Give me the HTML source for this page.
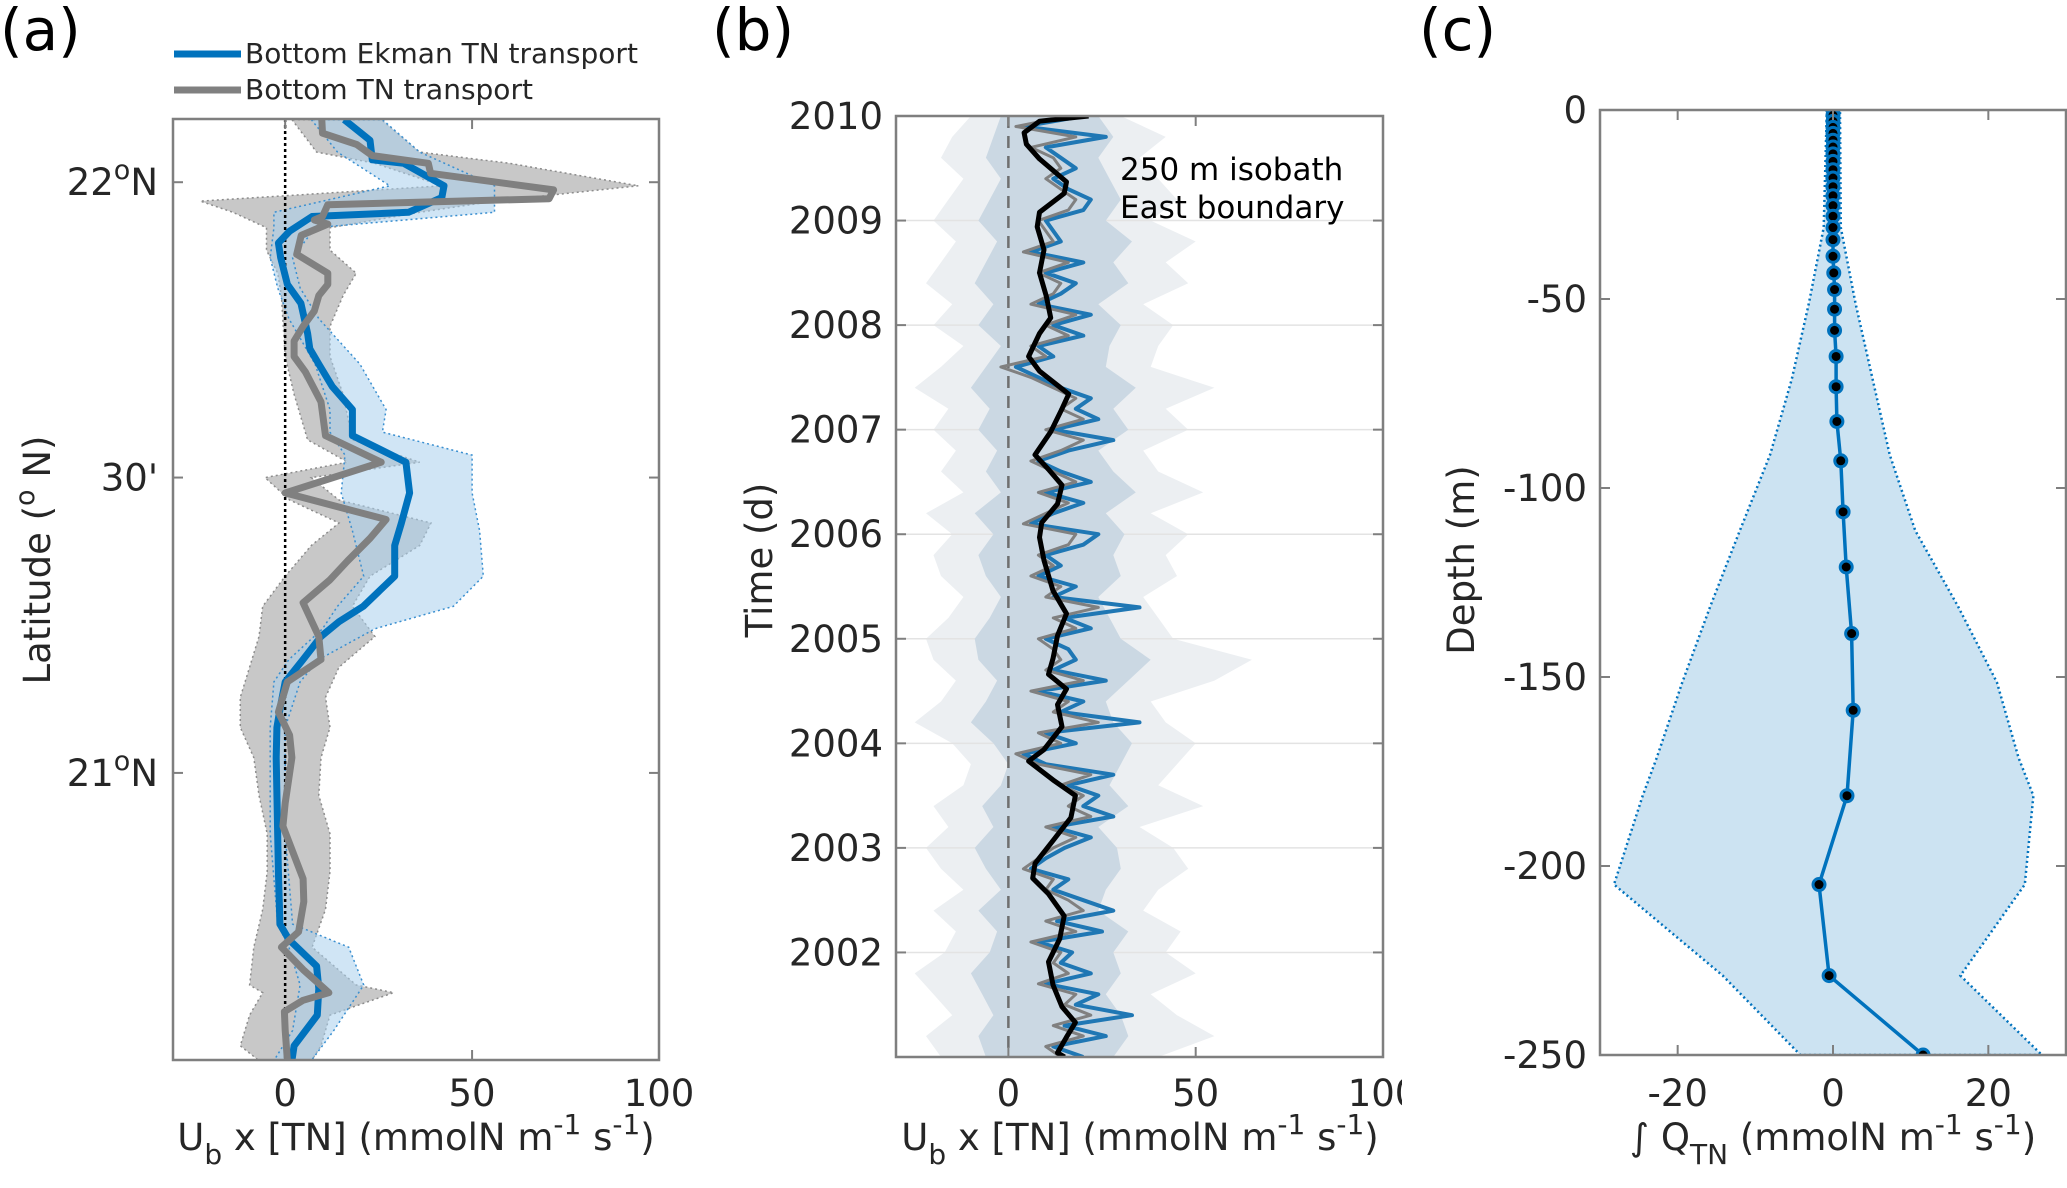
<!DOCTYPE html>
<html><head><meta charset="utf-8"><title>Bottom TN transport figure</title>
<style>
html,body{margin:0;padding:0;background:#fff;}
svg{display:block;font-family:"DejaVu Sans","Liberation Sans",sans-serif;}
.tick{font-size:37px;fill:#262626;}
.lab{font-size:37px;fill:#262626;}
.plab{font-size:58px;fill:#000;}
</style></head>
<body>
<svg id="fig" width="2067" height="1188" viewBox="0 0 2067 1188" xmlns="http://www.w3.org/2000/svg">
<defs><clipPath id="clipA"><rect x="173" y="119" width="486" height="941"/></clipPath>
<clipPath id="clipB"><rect x="896" y="116" width="487" height="941"/></clipPath>
<clipPath id="clipC"><rect x="1600" y="110" width="466" height="945"/></clipPath></defs>
<g id="panelA"></g>
<g id="panelB"></g>
<g id="panelC"></g>
</svg>
<script>
// ---------- Panel (a) data ----------
const aBlueLat = [22.106,22.071,22.038,22.032,21.994,21.974,21.949,21.942,21.917,21.897,21.872,21.827,21.795,21.744,21.718,21.692,21.654,21.615,21.571,21.526,21.474,21.423,21.385,21.333,21.282,21.256,21.231,21.192,21.154,21.115,21.077,21.026,20.833,20.744,20.718,20.673,20.635,20.590,20.538,20.513];
const aBlueVal = [15.8,22.7,23.3,31.7,42.5,41.9,33.0,7.2,1.2,-1.8,-1.2,0.6,4.2,6.0,6.6,9.0,12.6,18.0,18.0,32.3,33.3,31.1,29.3,29.3,20.9,14.4,9.6,4.8,0,-1.2,-2.2,-2.4,-1.8,-1.4,1.0,8.4,9.0,8.6,2.4,1.8];
const aGrayLat = [22.106,22.083,22.064,22.045,22.032,22.015,21.987,21.972,21.962,21.942,21.936,21.929,21.910,21.878,21.846,21.827,21.808,21.782,21.756,21.731,21.705,21.679,21.628,21.571,21.526,21.474,21.429,21.397,21.359,21.327,21.288,21.231,21.192,21.154,21.103,21.064,21.026,20.949,20.910,20.821,20.782,20.731,20.705,20.667,20.628,20.615,20.596,20.564,20.513];
const aGrayVal = [9.8,10.0,19.1,23.3,38.3,38.9,71.8,70.6,11.4,10,7.8,11.4,4.3,3.1,11.4,11.4,9.0,7.8,4.8,2.4,2.4,5.4,9.6,10.8,25.7,0,27.0,22.7,16.7,12.0,4.8,9.0,9.6,0.6,-1.8,1.2,1.8,0,-0.6,4.8,5.0,3.6,-1.0,4.8,11.7,4.8,-0.2,0,0.6];
const aGrayBandLat = [22.106,22.051,22.032,21.994,21.968,21.949,21.923,21.885,21.846,21.808,21.756,21.705,21.641,21.564,21.526,21.500,21.462,21.423,21.385,21.333,21.282,21.231,21.179,21.128,21.077,21.026,20.962,20.897,20.833,20.769,20.705,20.641,20.628,20.590,20.538,20.513];
const aGrayLo = [1.8,8.4,24,42,-22.7,-14,-5,-5,-2,-1,-0.5,0,2.4,6,16.7,-5.4,1.2,14.4,7,0,-6,-7,-9.5,-12,-12,-8.4,-7,-4.8,-4.8,-6,-8.4,-9.5,-6,-9.5,-12,-7];
const aGrayHi = [25.7,36,60,94.5,56,36,12,12,19,15.5,12,12,15.5,18,36,7,14.4,39,36,22.7,18,24,14.4,10.8,12,9.6,9,12,12,10.8,7.2,19,29,12,9.6,7];
const aBlueBandLat = [22.106,22.051,21.994,21.949,21.923,21.872,21.821,21.769,21.692,21.615,21.577,21.538,21.474,21.410,21.333,21.282,21.244,21.192,21.154,21.077,20.897,20.744,20.705,20.641,20.564,20.513];
const aBlueLo = [7,14,28,-3,-3,-4,-2,1,8,12,12,16,15,18,21,14,10,1,-3,-4,-4,-2,1,4,2,-3];
const aBlueHi = [26,36,56,56,8,2,4,9,20,27,26,50,50,52,53,45,24,9,4,0,0,2,17,21,13,7];
const aXTicks = [0,50,100];
const aYTicks = [22,21.5,21];
const aYTickLabels = ["22|N","30'","21|N"];

// ---------- Panel (b) data (bottom 2001 -> top 2010) ----------
const bBlackYear = [2010.00,2009.95,2009.84,2009.73,2009.59,2009.37,2009.26,2009.08,2008.94,2008.72,2008.50,2008.28,2008.07,2007.92,2007.70,2007.56,2007.34,2007.20,2006.98,2006.76,2006.62,2006.47,2006.29,2006.11,2005.97,2005.75,2005.46,2005.24,2005.03,2004.81,2004.66,2004.52,2004.37,2004.16,2003.94,2003.83,2003.65,2003.50,2003.29,2003.07,2002.85,2002.71,2002.56,2002.35,2002.13,2001.91,2001.69,2001.48,2001.33,2001.19,2001.04,2001.00];
const bBlackVal = [21.4,8.3,4.2,4.8,8.3,15.5,14.9,8.3,7.7,9.5,8.3,10.1,11.3,8.3,5.4,8.3,16.1,14.3,11.3,7.1,10.7,14.3,13.1,8.9,8.3,9.5,11.9,15.5,13.1,11.9,10.7,15.5,13.1,14.3,9.5,5.4,11.9,17.9,16.7,11.9,7.1,6.5,10.7,14.9,13.7,10.7,11.9,14.3,17.9,15.5,13.1,15];
const bBlueVal = [20,12,26,15,33,18,24,10,22,14, 17,8,25,13,28,20,12,16,6,10, 15,22,12,28,20,24,16,28,10,4, 18,10,35,14,20,8,26,12,18,16, 10,22,15,35,12,18,8,14,10,20, 24,6,12,20,10,22,14,8,16,28, 12,24,18,22,14,8,2,12,8,20, 12,22,8,14,18,10,20,6,14,12, 10,20,22,16,12,18,14,10,26,4, 20];
const bGrayVal = [14,10,20,12,22,15,18,8,16,12, 14,6,18,10,20,16,10,12,4,8, 12,18,10,22,16,20,14,22,8,2, 14,8,24,12,16,6,20,10,14,12, 8,18,12,24,10,14,6,12,8,16, 18,4,10,16,8,18,12,6,14,20, 10,20,14,18,12,6,-2,10,6,16, 10,18,6,12,14,8,16,4,12,10, 8,16,18,14,10,14,12,6,18,2, 16];
const bOuterLo = [-18,-22,-15,-20,-25,-17,-14,-20,-12,-18,-22,-16,-20,-12,-10,-15,-25,-18,-14,-20,-22,-16,-12,-18,-20,-15,-22,-12,-18,-14,-20,-16,-25,-18,-12,-20,-15,-22,-18,-14,-20,-16,-12,-18,-15,-10];
const bOuterHi = [40,55,45,38,50,42,46,36,40,48,44,35,52,40,45,50,42,38,55,65,44,40,36,45,42,48,38,52,40,36,48,42,55,38,40,44,36,48,42,50,38,45,40,35,42,30];
const bInnerLo = [-6,-8,-4,-7,-10,-5,-3,-8,-2,-6,-9,-4,-7,-2,0,-4,-10,-6,-3,-8,-9,-5,-2,-6,-8,-4,-9,-2,-6,-3,-8,-5,-10,-6,-2,-8,-4,-9,-6,-3,-8,-5,-2,-6,-4,-2];
const bInnerHi = [28,32,30,26,30,28,32,24,26,30,29,24,32,27,30,33,28,26,32,38,30,27,24,30,28,31,26,34,28,24,32,28,34,26,27,30,24,32,28,33,26,30,27,24,28,24];
const bXTicks = [0,50,100];
const bYTicks = [2002,2003,2004,2005,2006,2007,2008,2009,2010];

// ---------- Panel (c) data ----------
const cDepth = [0,-1.4,-3,-4.6,-6.2,-8,-9.8,-11.6,-13.6,-15.8,-18,-20.3,-22.7,-25.3,-28.1,-31.1,-34.3,-38.7,-43.1,-47.5,-52.7,-58.3,-65.2,-73.2,-82.4,-92.8,-106.3,-120.9,-138.5,-158.8,-181.4,-204.9,-229,-250];
const cVal = [0,0,0,0,0,0,0,0,0,0,0,0,0,0,0,0,0,0,0.1,0.2,0.2,0.2,0.4,0.4,0.5,1.0,1.3,1.7,2.4,2.6,1.8,-1.8,-0.5,11.6];
const cBandDepth = [0,-31.1,-51.1,-71.2,-91.2,-111.3,-131.3,-151.4,-171.4,-181.4,-204.9,-229,-250];
const cBandLo = [-0.8,-1.2,-3.1,-5.3,-8.1,-12,-15.8,-19.4,-22.7,-24.5,-28.2,-14.2,-4.2];
const cBandHi = [0.9,1.0,2.9,5.1,7.3,10.6,16.1,21.1,23.9,25.8,24.7,16.4,26.9];
const cXTicks = [-20,0,20];
const cYTicks = [0,-50,-100,-150,-200,-250];

const NS = "http://www.w3.org/2000/svg";
function mk(parent, tag, attrs, text){
  const e = document.createElementNS(NS, tag);
  for (const k in attrs) e.setAttribute(k, attrs[k]);
  if (text !== undefined) e.textContent = text;
  parent.appendChild(e);
  return e;
}
function lin(d0,d1,r0,r1){ return v => r0 + (v-d0)/(d1-d0)*(r1-r0); }
function linePts(xs, ys, fx, fy){ return xs.map((v,i)=>fx(v).toFixed(1)+","+fy(ys[i]).toFixed(1)).join(" "); }
function bandPts(lo, hi, ys, fx, fy){
  const a = lo.map((v,i)=>fx(v).toFixed(1)+","+fy(ys[i]).toFixed(1));
  const b = hi.map((v,i)=>fx(v).toFixed(1)+","+fy(ys[i]).toFixed(1)).reverse();
  return a.concat(b).join(" ");
}
function frame(g, L,T,R,B){
  const r = mk(g,'rect',{x:L,y:T,width:R-L,height:B-T,fill:'none',stroke:'#7f7f7f','stroke-width':2.5});
  
  
}
function xTicks(g, ticks, fx, T, B, labY){
  ticks.forEach(t=>{
    const x = fx(t);
    const l1 = mk(g,'line',{x1:x,x2:x,y1:B,y2:B-10,stroke:'#7f7f7f','stroke-width':2});
    
    
    const l2 = mk(g,'line',{x1:x,x2:x,y1:T,y2:T+10,stroke:'#7f7f7f','stroke-width':2});
    
    
    const tx = mk(g,'text',{x:x,y:labY,'text-anchor':'middle',class:'tick'}, String(t));
    
    
  });
}
function yTickMarks(g, y, L, R){
  const l1 = mk(g,'line',{x1:L,x2:L+10,y1:y,y2:y,stroke:'#7f7f7f','stroke-width':2});
  
  
  const l2 = mk(g,'line',{x1:R,x2:R-10,y1:y,y2:y,stroke:'#7f7f7f','stroke-width':2});
  
  
}
function xLabel(g, cx, y, sub){
  const t = mk(g,'text',{x:cx,y:y,'text-anchor':'middle',class:'lab'});
  
  
  if (sub==='b'){
    mk(t,'tspan',{},'U');
    mk(t,'tspan',{dy:14,'font-size':28},'b');
    mk(t,'tspan',{dy:-14},' x [TN] (mmolN m');
  } else {
    mk(t,'tspan',{},'\u222B Q');
    mk(t,'tspan',{dy:14,'font-size':28},'TN');
    mk(t,'tspan',{dy:-14},' (mmolN m');
  }
  mk(t,'tspan',{dy:-16,'font-size':28},'-1');
  mk(t,'tspan',{dy:16},' s');
  mk(t,'tspan',{dy:-16,'font-size':28},'-1');
  mk(t,'tspan',{dy:16},')');
}
function yLabel(g, x, y, text){
  const t = mk(g,'text',{x:x,y:y,'text-anchor':'middle',class:'lab',transform:`rotate(-90 ${x} ${y})`});
  
  
  return t;
}

// ===== Panel A =====
(function(){
  const g = document.getElementById('panelA');
  const L=173,R=659,T=119,B=1060;
  const fx = lin(-30,100,L,R), fy = lin(22.107,20.514,T,B);
  const c = mk(g,'g',{'clip-path':'url(#clipA)'});
  const gb = mk(c,'polygon',{points:bandPts(aGrayLo,aGrayHi,aGrayBandLat,fx,fy),fill:'#c8c8c8',stroke:'#8c8c8c','stroke-width':1.5,'stroke-dasharray':'2 3'});
  
  
  const bb = mk(c,'polygon',{points:bandPts(aBlueLo,aBlueHi,aBlueBandLat,fx,fy),fill:'#a9d0ec','fill-opacity':0.55,stroke:'#3a8fd0','stroke-width':1.5,'stroke-dasharray':'2 3'});
  
  
  const z = mk(c,'line',{x1:fx(0),x2:fx(0),y1:T,y2:B,stroke:'#000','stroke-width':2.5,'stroke-dasharray':'3 3'});
  
  
  const bl = mk(c,'polyline',{points:linePts(aBlueVal,aBlueLat,fx,fy),fill:'none',stroke:'#0072BD','stroke-width':7,'stroke-linejoin':'round'});
  
  
  const gl = mk(c,'polyline',{points:linePts(aGrayVal,aGrayLat,fx,fy),fill:'none',stroke:'#808080','stroke-width':7,'stroke-linejoin':'round'});
  
  
  frame(g,L,T,R,B);
  xTicks(g,aXTicks,fx,T,B,1106);
  aYTicks.forEach((t,i)=>{
    const y = fy(t);
    yTickMarks(g,y,L,R);
    const tx = mk(g,'text',{x:158,y:y+13,'text-anchor':'end',class:'tick'});
    
    
    const parts = aYTickLabels[i].split('|');
    if (parts.length===2){
      mk(tx,'tspan',{},parts[0]);
      mk(tx,'tspan',{dy:-16,'font-size':27},'o');
      mk(tx,'tspan',{dy:16},parts[1]);
    } else tx.textContent = parts[0];
  });
  xLabel(g,416,1150,'b');
  const yl = yLabel(g,50,560,'');
  mk(yl,'tspan',{},'Latitude (');
  mk(yl,'tspan',{dy:-16,'font-size':27},'o');
  mk(yl,'tspan',{dy:16},' N)');
  const lg = mk(g,'g',{});
  
  
  const l1 = mk(lg,'line',{x1:174,x2:241,y1:54,y2:54,stroke:'#0072BD','stroke-width':7});
  
  
  const t1 = mk(lg,'text',{x:245,y:63,'font-size':28,fill:'#262626'},'Bottom Ekman TN transport');
  
  
  const l2 = mk(lg,'line',{x1:174,x2:241,y1:90,y2:90,stroke:'#808080','stroke-width':7});
  
  
  const t2 = mk(lg,'text',{x:245,y:99,'font-size':28,fill:'#262626'},'Bottom TN transport');
  
  
  const pl = mk(g,'text',{x:0,y:50,class:'plab'},'(a)');
  
  
})();

// ===== Panel B =====
(function(){
  const g = document.getElementById('panelB');
  const L=896,R=1383,T=116,B=1057;
  const fx = lin(-30,100,L,R), fy = lin(2010,2001,T,B);
  const c = mk(g,'g',{'clip-path':'url(#clipB)'});
  const nb = bOuterLo.length;
  const bandYears = bOuterLo.map((v,i)=>2001+i*9/(nb-1));
  const ob = mk(c,'polygon',{points:bandPts(bOuterLo,bOuterHi,bandYears,fx,fy),fill:'#eceff2'});
  
  
  bYTicks.forEach(t=>{
    const gl = mk(c,'line',{x1:L,x2:R,y1:fy(t),y2:fy(t),stroke:'#e3e3e3','stroke-width':1.5});
    
    
  });
  const ib = mk(c,'polygon',{points:bandPts(bInnerLo,bInnerHi,bandYears,fx,fy),fill:'#cbd8e3'});
  
  
  const z = mk(c,'line',{x1:fx(0),x2:fx(0),y1:T,y2:B,stroke:'#6f6f6f','stroke-width':2.5,'stroke-dasharray':'12 8'});
  
  
  function series(vals){
    const n = vals.length;
    const yrs = vals.map((v,i)=>2001+i*9/(n-1));
    return linePts(vals, yrs, fx, fy);
  }
  const bs = mk(c,'polyline',{points:series(bBlueVal),fill:'none',stroke:'#1f77b4','stroke-width':4,'stroke-linejoin':'round'});
  
  
  const gs = mk(c,'polyline',{points:series(bGrayVal),fill:'none',stroke:'#808080','stroke-width':3,'stroke-linejoin':'round'});
  
  
  const bk = mk(c,'polyline',{points:linePts(bBlackVal,bBlackYear,fx,fy),fill:'none',stroke:'#000','stroke-width':5,'stroke-linejoin':'round'});
  
  
  frame(g,L,T,R,B);
  xTicks(g,bXTicks,fx,T,B,1106);
  bYTicks.forEach(t=>{
    const y = fy(t);
    yTickMarks(g,y,L,R);
    const tx = mk(g,'text',{x:883,y:y+13,'text-anchor':'end',class:'tick'},String(t));
    
    
  });
  const a1 = mk(g,'text',{x:1120,y:180,'font-size':31,fill:'#000'},'250 m isobath');
  
  
  const a2 = mk(g,'text',{x:1120,y:218,'font-size':31,fill:'#000'},'East boundary');
  
  
  xLabel(g,1140,1150,'b');
  const yl = yLabel(g,772,560,'');
  yl.textContent = 'Time (d)';
  const pl = mk(g,'text',{x:712,y:50,class:'plab'},'(b)');
  
  
  const cover = mk(g,'rect',{x:1402,y:1060,width:20,height:60,fill:'#fff'});
  
  
})();

// ===== Panel C =====
(function(){
  const g = document.getElementById('panelC');
  const L=1600,R=2066,T=110,B=1055;
  const fx = lin(-30,30,L,R), fy = lin(0,-250,T,B);
  const c = mk(g,'g',{'clip-path':'url(#clipC)'});
  const bb = mk(c,'polygon',{points:bandPts(cBandLo,cBandHi,cBandDepth,fx,fy),fill:'#cce3f2',stroke:'#0072BD','stroke-width':2.5,'stroke-dasharray':'2 3'});
  
  
  const ln = mk(c,'polyline',{points:linePts(cVal,cDepth,fx,fy),fill:'none',stroke:'#0072BD','stroke-width':3.5});
  
  
  cVal.forEach((v,i)=>{
    const m = mk(c,'circle',{cx:fx(v),cy:fy(cDepth[i]),r:6,fill:'#000',stroke:'#0072BD','stroke-width':3});
    
    
  });
  frame(g,L,T,R,B);
  xTicks(g,cXTicks,fx,T,B,1106);
  cYTicks.forEach(t=>{
    const y = fy(t);
    yTickMarks(g,y,L,R);
    const tx = mk(g,'text',{x:1587,y:y+13,'text-anchor':'end',class:'tick'},String(t));
    
    
  });
  xLabel(g,1833,1150,'q');
  const yl = yLabel(g,1474,560,'');
  yl.textContent = 'Depth (m)';
  const pl = mk(g,'text',{x:1419,y:50,class:'plab'},'(c)');
  
  
})();
</script>
</body></html>
